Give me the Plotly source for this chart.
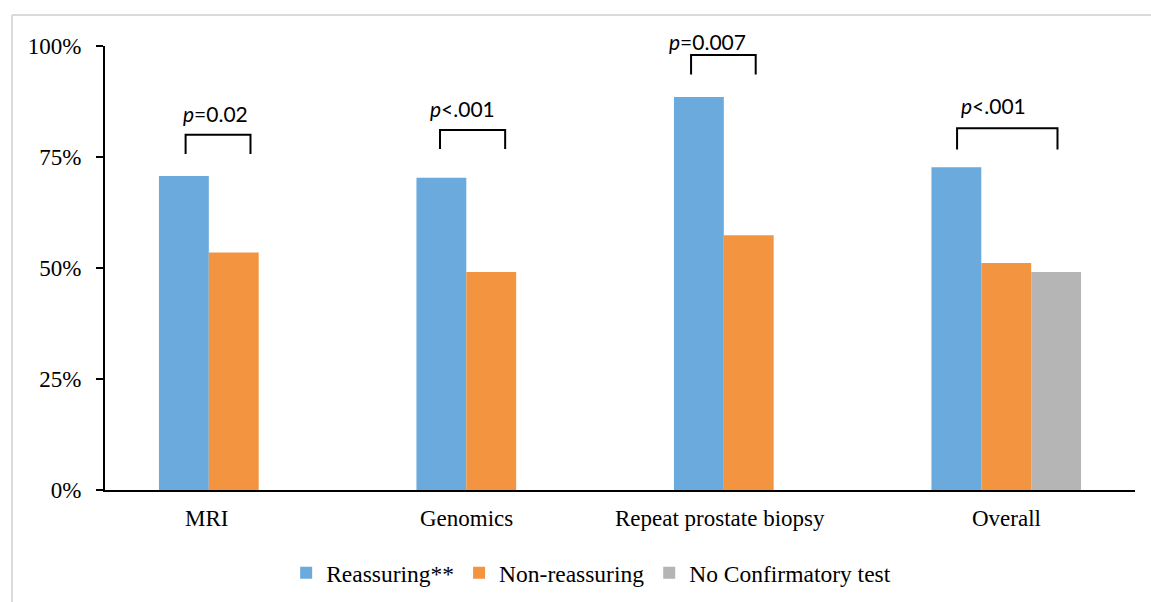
import plotly.graph_objects as go

categories = ["MRI", "Genomics", "Repeat prostate biopsy", "Overall"]
reassuring = [70.7, 70.3, 88.5, 72.7]
non_reassuring = [53.5, 49.1, 57.4, 51.1]
no_confirmatory = [None, None, None, 49.1]
series_names = ["Reassuring**", "Non-reassuring", "No Confirmatory test"]
p_labels = ["<i>p</i>=0.02", "<i>p</i><.001", "<i>p</i>=0.007", "<i>p</i><.001"]
y_ticks = [0, 25, 50, 75, 100]
y_tick_text = ["0%", "25%", "50%", "75%", "100%"]

colors = ["#6AAADD", "#F39441", "#B5B5B5"]
serif = "Liberation Serif"

fig = go.Figure()
for name, vals, col in zip(series_names, [reassuring, non_reassuring, no_confirmatory], colors):
    fig.add_trace(go.Bar(x=categories, y=vals, name=name, marker=dict(color=col, line=dict(width=0))))

# p-value brackets (positions in category units relative to category index)
bracket_x = [(-0.187, 0.065), (-0.199, 0.054), (-0.224, 0.027), (-0.191, 0.199)]
bracket_y = [(80.0, 75.7), (81.1, 76.8), (98.0, 93.6), (81.5, 76.7)]
text_pos = [(-0.07, 84.9), (-0.11, 86.0), (-0.16, 101.1), (-0.05, 86.5)]

for i, ((x0, x1), (ytop, ybot), (tx, ty), lab) in enumerate(zip(bracket_x, bracket_y, text_pos, p_labels)):
    fig.add_shape(type="path",
                  path=f"M {i + x0} {ybot} L {i + x0} {ytop} L {i + x1} {ytop} L {i + x1} {ybot}",
                  xref="x", yref="y", line=dict(color="black", width=2))
    fig.add_annotation(x=i + tx, y=ty / 100, xref="x", yref="paper", text=lab, showarrow=False,
                       font=dict(family="Lato", size=21, color="black"),
                       xanchor="center", yanchor="middle")

# category labels, centred on the bars shown in each group
label_shift = [-27, -25, -29, 0]
for cat, sh in zip(categories, label_shift):
    fig.add_annotation(x=cat, y=0, xref="x", yref="paper", text=cat, showarrow=False,
                       xshift=sh, yshift=-28, yanchor="middle", xanchor="center",
                       font=dict(family=serif, size=23, color="black"))

# light frame lines
fig.add_shape(type="line", xref="paper", yref="paper", x0=-0.0903, x1=-0.0903, y0=1.0698, y1=-0.3,
              line=dict(color="#DADADA", width=2))
fig.add_shape(type="line", xref="paper", yref="paper", x0=-0.0903, x1=1.02, y0=1.0698, y1=1.0698,
              line=dict(color="#DADADA", width=2))

fig.update_layout(
    width=1151, height=602,
    margin=dict(l=105, r=16, t=46, b=112, autoexpand=False),
    paper_bgcolor="white", plot_bgcolor="white",
    barmode="group", bargap=0.419, bargroupgap=0,
    showlegend=True,
    legend=dict(orientation="h", x=0.472, y=-0.187, xanchor="center", yanchor="middle",
                font=dict(family=serif, size=23.5, color="black"), itemwidth=30,
                traceorder="normal"),
    font=dict(family=serif, color="black"),
)
fig.update_xaxes(type="category", showline=True, linecolor="black", linewidth=2,
                 showticklabels=False, ticks="", showgrid=False, zeroline=False,
                 range=[-0.5, 3.5])
fig.update_yaxes(range=[0, 100], tickmode="array", tickvals=y_ticks, ticktext=y_tick_text,
                 showline=True, linecolor="black", linewidth=2, ticks="outside", ticklen=7,
                 tickwidth=2, tickcolor="black", showgrid=False, zeroline=False,
                 ticklabelstandoff=10,
                 tickfont=dict(family=serif, size=23, color="black"))

fig.write_html("out.html", config={"displayModeBar": False},
               post_script="document.body.style.margin='0px';")
